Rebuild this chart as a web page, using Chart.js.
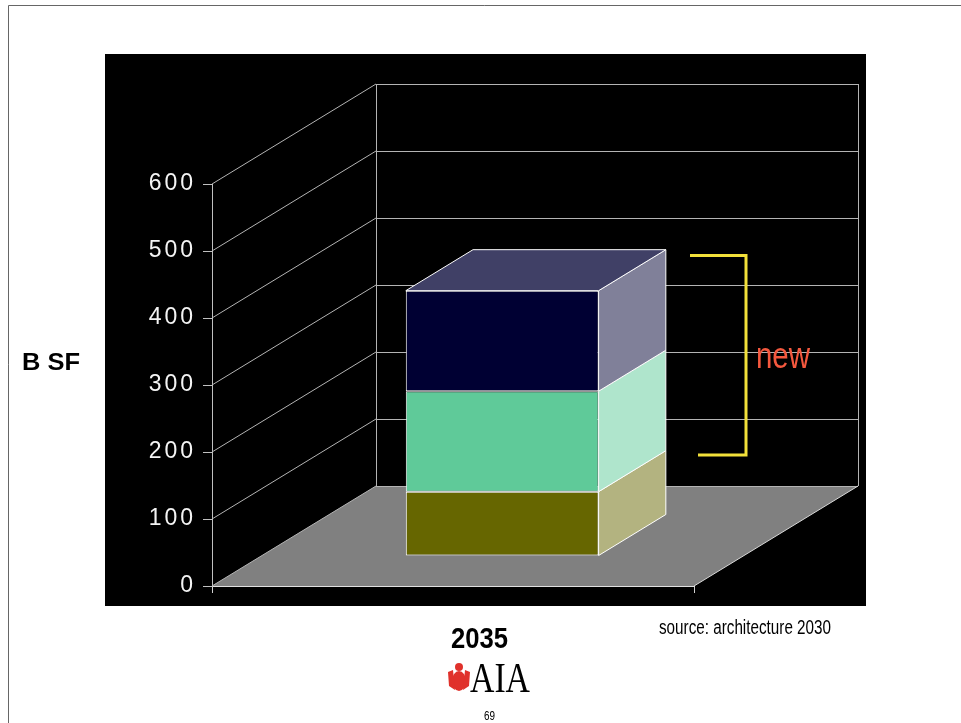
<!DOCTYPE html>
<html>
<head>
<meta charset="utf-8">
<script src="https://cdn.jsdelivr.net/npm/chart.js@4.4.1/dist/chart.umd.min.js"></script>
<style>
  html, body { margin: 0; padding: 0; background: #fff; }
  canvas { display: block; }
</style>
</head>
<body>
<canvas id="stockChart" width="961" height="723"></canvas>
<script>
// Données du graphique
const categories = ['2035'];
const existingValues = [96];   // bas, olive
const renovatedValues = [150]; // milieu, vert
const newValues = [150];       // haut, bleu nuit
const yMin = 0, yMax = 600, yStep = 100;

// Projection oblique de la "3D"
const DEPTH_X = 164, DEPTH_Y = -100;
const BAR_FRONT = 0.30, BAR_BACK = 0.71;
const FONT = "'Liberation Sans', Arial, sans-serif";

// Écrit un texte calé sur une largeur donnée (le texte de la diapo est compressé)
function fitText(ctx, str, font, color, left, base, width) {
    ctx.save();
    ctx.letterSpacing = '0px';
    ctx.font = font;
    ctx.fillStyle = color;
    ctx.textAlign = 'left';
    ctx.textBaseline = 'alphabetic';
    const w = ctx.measureText(str).width;
    ctx.translate(left, base);
    ctx.scale(width / w, 1);
    ctx.fillText(str, 0, 0);
    ctx.restore();
}

function crisp(v) { return Math.round(v) + 0.5; }

const slide3d = {
    id: 'slide3d',
    beforeDraw(chart) {
        const { ctx, chartArea: a, scales: { y } } = chart;
        ctx.save();
        ctx.fillStyle = '#ffffff';
        ctx.fillRect(0, 0, chart.width, chart.height);
        // cadre de la diapo
        ctx.strokeStyle = '#666666';
        ctx.lineWidth = 1;
        ctx.beginPath();
        ctx.moveTo(8.5, chart.height);
        ctx.lineTo(8.5, 5.5);
        ctx.lineTo(chart.width, 5.5);
        ctx.stroke();
        // fond noir
        ctx.fillStyle = '#000000';
        ctx.fillRect(105, 54, 761, 552);

        const y0 = y.getPixelForValue(yMin);
        const xl = a.left, xr = a.right;
        // sol gris
        ctx.fillStyle = '#808080';
        ctx.beginPath();
        ctx.moveTo(xl, y0);
        ctx.lineTo(xl + DEPTH_X, y0 + DEPTH_Y);
        ctx.lineTo(xr + DEPTH_X, y0 + DEPTH_Y);
        ctx.lineTo(xr, y0);
        ctx.closePath();
        ctx.fill();

        // lignes de la grille : mur gauche + mur du fond
        ctx.strokeStyle = '#b4b4b4';
        ctx.lineWidth = 1;
        for (let v = yMin; v <= yMax; v += yStep) {
            const py = y.getPixelForValue(v);
            ctx.beginPath();
            ctx.moveTo(xl, py);
            ctx.lineTo(xl + DEPTH_X, py + DEPTH_Y);
            ctx.stroke();
            const by = crisp(py + DEPTH_Y);
            ctx.beginPath();
            ctx.moveTo(xl + DEPTH_X, by);
            ctx.lineTo(xr + DEPTH_X, by);
            ctx.stroke();
        }
        const top = y.getPixelForValue(yMax) + DEPTH_Y;
        [xl + DEPTH_X, xr + DEPTH_X].forEach(px => {
            ctx.beginPath();
            ctx.moveTo(crisp(px), y0 + DEPTH_Y);
            ctx.lineTo(crisp(px), top);
            ctx.stroke();
        });
        // bord droit du sol
        ctx.strokeStyle = '#d8d8d8';
        ctx.beginPath();
        ctx.moveTo(xr, y0);
        ctx.lineTo(xr + DEPTH_X, y0 + DEPTH_Y);
        ctx.stroke();
        ctx.restore();

        // espacement des chiffres de l'axe Y
        ctx.letterSpacing = '3px';
    },
    beforeDatasetsDraw(chart) {
        const ctx = chart.ctx;
        ctx.letterSpacing = '0px';
        ctx.save();
        // les faces avant sont reculées dans la profondeur
        ctx.translate(DEPTH_X * BAR_FRONT, DEPTH_Y * BAR_FRONT);
    },
    afterDatasetsDraw(chart) {
        const ctx = chart.ctx;
        ctx.restore();
        const fx = DEPTH_X * BAR_FRONT, fy = DEPTH_Y * BAR_FRONT;
        const bx = DEPTH_X * (BAR_BACK - BAR_FRONT), by = DEPTH_Y * (BAR_BACK - BAR_FRONT);
        const n = chart.data.datasets.length;
        ctx.save();
        ctx.strokeStyle = '#ffffff';
        ctx.lineWidth = 1;
        ctx.lineJoin = 'round';
        chart.data.datasets.forEach((ds, i) => {
            chart.getDatasetMeta(i).data.forEach(bar => {
                const L = bar.x - bar.width / 2 + fx;
                const R = bar.x + bar.width / 2 + fx;
                const T = bar.y + fy;
                const B = bar.base + fy;
                // face droite
                ctx.fillStyle = ds.sideColor;
                ctx.beginPath();
                ctx.moveTo(R, T);
                ctx.lineTo(R + bx, T + by);
                ctx.lineTo(R + bx, B + by);
                ctx.lineTo(R, B);
                ctx.closePath();
                ctx.fill();
                ctx.stroke();
                // face du dessus (seulement la dernière série)
                if (i === n - 1) {
                    ctx.fillStyle = ds.topColor;
                    ctx.beginPath();
                    ctx.moveTo(L, T);
                    ctx.lineTo(L + bx, T + by);
                    ctx.lineTo(R + bx, T + by);
                    ctx.lineTo(R, T);
                    ctx.closePath();
                    ctx.fill();
                    ctx.stroke();
                }
            });
        });
        ctx.restore();
    },
    afterDraw(chart) {
        const ctx = chart.ctx;
        ctx.letterSpacing = '0px';
        // titre de l'axe et annotations
        fitText(ctx, 'B SF', 'bold 23px ' + FONT, '#000000', 22, 370, 58);
        fitText(ctx, chart.data.labels[0], 'bold 30px ' + FONT, '#000000', 451, 648, 57);
        fitText(ctx, 'source: architecture 2030', '20px ' + FONT, '#000000', 659, 634, 172);
        fitText(ctx, 'new', '36px ' + FONT, '#f4583e', 756, 368, 54);
        fitText(ctx, '69', '12px ' + FONT, '#000000', 484, 720, 11);

        // accolade jaune
        ctx.save();
        ctx.strokeStyle = '#f2e03a';
        ctx.lineWidth = 3;
        ctx.beginPath();
        ctx.moveTo(690, 255.5);
        ctx.lineTo(746, 255.5);
        ctx.lineTo(746, 455);
        ctx.lineTo(698, 455);
        ctx.stroke();
        ctx.restore();

        // logo AIA
        ctx.save();
        ctx.fillStyle = '#e0312b';
        ctx.beginPath();
        ctx.ellipse(459, 681, 7, 10, 0, 0, Math.PI * 2);
        ctx.fill();
        ctx.beginPath();
        ctx.arc(459, 667, 4, 0, Math.PI * 2);
        ctx.fill();
        ctx.beginPath();
        ctx.moveTo(448, 672);
        ctx.lineTo(453, 670);
        ctx.lineTo(455, 690);
        ctx.lineTo(449, 686);
        ctx.closePath();
        ctx.moveTo(470, 672);
        ctx.lineTo(465, 670);
        ctx.lineTo(463, 690);
        ctx.lineTo(469, 686);
        ctx.closePath();
        ctx.fill();
        ctx.restore();
        fitText(ctx, 'AIA', '42px "Liberation Serif", "Times New Roman", serif', '#000000', 470, 692, 60);
    }
};

function shade(hex, amount) {
    const n = parseInt(hex.slice(1), 16);
    const mix = c => Math.round(c + (255 - c) * amount);
    const r = mix(n >> 16), g = mix((n >> 8) & 255), b = mix(n & 255);
    return `rgb(${r}, ${g}, ${b})`;
}

function makeSeries(label, values, color) {
    return {
        label: label,
        data: values,
        backgroundColor: color,
        topColor: shade(color, 0.25),
        sideColor: shade(color, 0.5),
        borderColor: '#ffffff',
        borderWidth: 1,
        borderSkipped: false,
        barPercentage: 0.4,
        categoryPercentage: 1
    };
}

const ctx = document.getElementById('stockChart').getContext('2d');
new Chart(ctx, {
    type: 'bar',
    data: {
        labels: categories,
        datasets: [
            makeSeries('existing', existingValues, '#666600'),
            makeSeries('renovated', renovatedValues, '#5fca99'),
            makeSeries('new', newValues, '#000033')
        ]
    },
    options: {
        responsive: false,
        animation: false,
        layout: { padding: { top: 184, right: 267, left: 0, bottom: 0 } },
        plugins: { legend: { display: false }, tooltip: { enabled: false } },
        scales: {
            x: {
                stacked: true,
                grid: { offset: true, drawOnChartArea: false, drawTicks: true, tickLength: 7, color: '#d0d0d0' },
                border: { display: true, color: '#e0e0e0' },
                ticks: { display: false },
                afterFit: s => { s.height = 137; }
            },
            y: {
                stacked: true,
                min: yMin,
                max: yMax,
                ticks: { stepSize: yStep, color: '#f4f4f4', padding: 7, font: { family: FONT, size: 23 } },
                grid: { drawOnChartArea: false, drawTicks: true, tickLength: 9, color: '#c0c0c0' },
                border: { display: true, color: '#c0c0c0' },
                afterFit: s => { s.width = 212; }
            }
        }
    },
    plugins: [slide3d]
});
</script>
</body>
</html>
